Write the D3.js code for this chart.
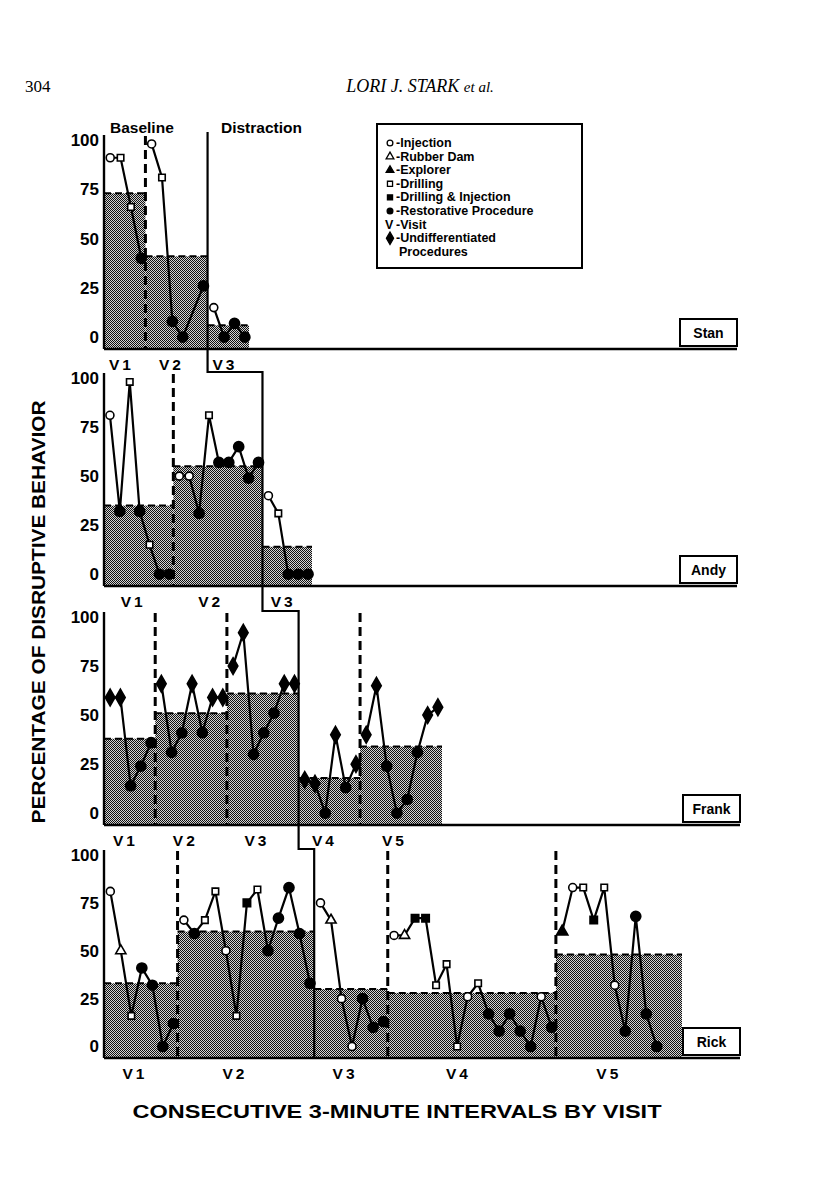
<!DOCTYPE html>
<html><head><meta charset="utf-8">
<script src="https://cdn.jsdelivr.net/npm/d3@7"></script>
<style>body{margin:0;background:#fff}</style>
</head><body>
<svg id="c" width="816" height="1195"></svg>
<script>
// ---------------- DATA ----------------
const subjects = ["Stan", "Andy", "Frank", "Rick"];
const baselineVisits = [2, 2, 3, 2];          // number of baseline visits per child
const visitLabels = ["V1", "V2", "V3", "V4", "V5"];
const yTicks = [0, 25, 50, 75, 100];
const phaseLabels = ["Baseline", "Distraction"];
const legendItems = [
  ["o", "-Injection"], ["t", "-Rubber Dam"], ["T", "-Explorer"], ["s", "-Drilling"],
  ["S", "-Drilling & Injection"], ["f", "-Restorative Procedure"], ["V", "-Visit"],
  ["d", "-Undifferentiated"], [null, "Procedures"]
];

// intervals per visit, visit mean (bar), interval values, procedure codes
// o injection, t rubber dam, T explorer, s drilling, S drilling&injection, f restorative, d undifferentiated
const stanUnits = [4, 6, 4];
const stanMeans = [73, 41, 6];
const stanValues = [[91, 91, 66, 40], [98, 81, 8, 0, null, 26], [15, 0, 7, 0]];
const stanTypes = [["o", "s", "s", "f"], ["o", "s", "f", "f", null, "f"], ["o", "f", "f", "f"]];

const andyUnits = [7, 9, 5];
const andyMeans = [35, 55, 14];
const andyValues = [[81, 32, 98, 32, 15, 0, 0], [50, 50, 31, 81, 57, 57, 65, 49, 57], [40, 31, 0, 0, 0]];
const andyTypes = [["o", "f", "s", "f", "s", "f", "f"], ["o", "o", "f", "s", "f", "f", "f", "f", "f"], ["o", "s", "f", "f", "f"]];

const frankUnits = [5, 7, 7, 6, 8];
const frankMeans = [38, 51, 61, 18, 34];
const frankValues = [[59, 59, 14, 24, 36], [66, 31, 41, 66, 41, 59, 59], [75, 92, 30, 41, 51, 66, 66],
  [17, 15, 0, 40, 13, 25], [40, 65, 24, 0, 7, 31, 50, 54]];
const frankTypes = [["d", "d", "f", "f", "f"], ["d", "f", "f", "d", "f", "d", "d"], ["d", "d", "f", "f", "f", "d", "d"],
  ["d", "d", "f", "d", "f", "d"], ["d", "d", "f", "f", "f", "f", "d", "d"]];

const rickUnits = [7, 13, 7, 16, 12];
const rickMeans = [33, 60, 30, 28, 48];
const rickValues = [[81, 50, 16, 41, 32, 0, 12],
  [66, 59, 66, 81, 50, 16, 75, 82, 50, 67, 83, 59, 33],
  [75, 66, 25, 0, 25, 10, 13],
  [58, 58, 67, 67, 32, 43, 0, 26, 33, 17, 8, 17, 8, 0, 26, 10],
  [60, 83, 83, 66, 83, 32, 8, 68, 17, 0]];
const rickTypes = [["o", "t", "s", "f", "f", "f", "f"],
  ["o", "f", "s", "s", "o", "s", "S", "s", "f", "f", "f", "f", "f"],
  ["o", "t", "o", "o", "f", "f", "f"],
  ["o", "t", "S", "S", "s", "s", "s", "o", "s", "f", "f", "f", "f", "f", "o", "f"],
  ["T", "o", "s", "S", "s", "o", "f", "f", "f", "f"]];

const panels = [
  {units: stanUnits, means: stanMeans, values: stanValues, types: stanTypes},
  {units: andyUnits, means: andyMeans, values: andyValues, types: andyTypes},
  {units: frankUnits, means: frankMeans, values: frankValues, types: frankTypes},
  {units: rickUnits, means: rickMeans, values: rickValues, types: rickTypes}
];

// ---------------- LAYOUT ----------------
const panelTop = [140, 378, 617, 855];
const panelAxis = [349, 586, 825, 1058];
const barEnd = [249, 312, 442, 682];
const axisEnd = [737, 737, 740, 740];
const x0 = 104;
const FONT = "'Liberation Sans', Arial, sans-serif";

const svg = d3.select("#c");
const defs = svg.append("defs");
const pat = defs.append("pattern").attr("id", "dots").attr("patternUnits", "userSpaceOnUse")
  .attr("width", 2).attr("height", 2);
pat.append("rect").attr("width", 2).attr("height", 2).attr("fill", "#d4d4d4");
pat.append("rect").attr("width", 1).attr("height", 1).attr("fill", "#111");
pat.append("rect").attr("x", 1).attr("y", 1).attr("width", 1).attr("height", 1).attr("fill", "#111");

// header
svg.append("text").attr("x", 25).attr("y", 92).attr("font-family", "'Liberation Serif', serif")
  .attr("font-size", 17).text("304");
const hdr = svg.append("text").attr("x", 420).attr("y", 92).attr("text-anchor", "middle")
  .attr("font-family", "'Liberation Serif', serif").attr("font-style", "italic").attr("font-size", 18);
hdr.append("tspan").text("LORI J. STARK ");
hdr.append("tspan").attr("font-size", 15).text("et al.");

// phase labels
svg.append("text").attr("x", 110).attr("y", 133).attr("font-family", FONT).attr("font-weight", "bold")
  .attr("font-size", 15.5).text(phaseLabels[0]);
svg.append("text").attr("x", 221).attr("y", 133).attr("font-family", FONT).attr("font-weight", "bold")
  .attr("font-size", 15.5).text(phaseLabels[1]);

function symbolPath(code, size) {
  const map = {o: d3.symbolCircle, f: d3.symbolCircle, s: d3.symbolSquare, S: d3.symbolSquare,
    t: d3.symbolTriangle, T: d3.symbolTriangle, d: d3.symbolDiamond};
  return d3.symbol().type(map[code]).size(size)();
}
const symSize = {o: 50, f: 80, s: 42, S: 55, t: 45, T: 55, d: 80};
const filled = c => ["f", "S", "T", "d"].includes(c);

const stepPts = [];

panels.forEach((p, pi) => {
  const total = d3.sum(p.units);
  const x = d3.scaleLinear().domain([0, total]).range([x0, barEnd[pi]]);
  const y = d3.scaleLinear().domain([-6, 100]).range([panelAxis[pi], panelTop[pi]]);
  const g = svg.append("g");
  const starts = d3.cumsum([0, ...p.units]);

  // bars (visit means)
  p.means.forEach((m, vi) => {
    g.append("rect").attr("x", x(starts[vi])).attr("y", y(m))
      .attr("width", x(starts[vi + 1]) - x(starts[vi])).attr("height", panelAxis[pi] - y(m))
      .attr("fill", "url(#dots)");
    g.append("line").attr("x1", x(starts[vi])).attr("x2", x(starts[vi + 1]))
      .attr("y1", y(m)).attr("y2", y(m)).attr("stroke", "#000").attr("stroke-width", 2)
      .attr("stroke-dasharray", "7,4");
  });

  // dashed visit boundaries
  for (let vi = 1; vi < p.units.length; vi++) {
    if (vi === baselineVisits[pi]) continue;
    g.append("line").attr("x1", x(starts[vi])).attr("x2", x(starts[vi]))
      .attr("y1", panelTop[pi] - 4).attr("y2", panelAxis[pi]).attr("stroke", "#000")
      .attr("stroke-width", 3).attr("stroke-dasharray", "9,5");
  }
  stepPts.push({x: x(starts[baselineVisits[pi]]), top: panelTop[pi], axis: panelAxis[pi]});

  // axes
  g.append("line").attr("x1", x0).attr("x2", x0).attr("y1", panelTop[pi] - 5).attr("y2", panelAxis[pi])
    .attr("stroke", "#000").attr("stroke-width", 2.4);
  g.append("line").attr("x1", x0).attr("x2", axisEnd[pi]).attr("y1", panelAxis[pi]).attr("y2", panelAxis[pi])
    .attr("stroke", "#000").attr("stroke-width", 2.4);
  const ax = g.append("g").attr("transform", `translate(${x0 - 2},0)`)
    .call(d3.axisLeft(y).tickValues(yTicks).tickSize(0).tickPadding(3));
  ax.select(".domain").remove();
  ax.selectAll("text").attr("font-family", FONT).attr("font-weight", "bold").attr("font-size", 17)
    .attr("fill", "#000");

  // visit labels
  p.units.forEach((u, vi) => {
    g.append("text").attr("x", x(starts[vi]) + (x(starts[vi + 1]) - x(starts[vi])) * 0.42)
      .attr("y", panelAxis[pi] + 21).attr("text-anchor", "middle").attr("font-family", FONT)
      .attr("font-weight", "bold").attr("font-size", 15.5).attr("letter-spacing", 3).text(visitLabels[vi]);
  });

  // lines + points
  p.values.forEach((vals, vi) => {
    const pts = vals.map((v, k) => ({v, t: p.types[vi][k], px: x(starts[vi] + k + 0.6)}))
      .filter(d => d.v !== null);
    g.append("path").datum(pts)
      .attr("d", d3.line().x(d => d.px).y(d => y(d.v)))
      .attr("fill", "none").attr("stroke", "#000").attr("stroke-width", 2.2);
    g.selectAll(null).data(pts).join("path")
      .attr("transform", d => `translate(${d.px},${y(d.v)})`)
      .attr("d", d => symbolPath(d.t, symSize[d.t]))
      .attr("fill", d => filled(d.t) ? "#000" : "#fff")
      .attr("stroke", "#000").attr("stroke-width", 1.6);
  });

  // name box
  const bw = 57, bh = 27;
  g.append("rect").attr("x", axisEnd[pi] - bw).attr("y", panelAxis[pi] - bh - 3).attr("width", bw)
    .attr("height", bh).attr("fill", "#fff").attr("stroke", "#000").attr("stroke-width", 2);
  g.append("text").attr("x", axisEnd[pi] - bw / 2).attr("y", panelAxis[pi] - 11).attr("text-anchor", "middle")
    .attr("font-family", FONT).attr("font-weight", "bold").attr("font-size", 14).text(subjects[pi]);
});

// phase-change step line
let d = `M${stepPts[0].x},${stepPts[0].top - 8}`;
stepPts.forEach((s, i) => {
  if (i < stepPts.length - 1) {
    const yy = stepPts[i + 1].top - 6;
    d += `L${s.x},${yy}L${stepPts[i + 1].x},${yy}`;
  } else {
    d += `L${s.x},${s.axis}`;
  }
});
svg.append("path").attr("d", d).attr("fill", "none").attr("stroke", "#000").attr("stroke-width", 2.2);

// legend
const lg = svg.append("g");
lg.append("rect").attr("x", 377).attr("y", 124).attr("width", 205).attr("height", 144)
  .attr("fill", "#fff").attr("stroke", "#000").attr("stroke-width", 2);
legendItems.forEach(([code, label], i) => {
  const yy = 147 + i * 13.6;
  if (code && code !== "V") {
    lg.append("path").attr("transform", `translate(390,${yy - 4})`)
      .attr("d", symbolPath(code, code === "d" ? 45 : 26))
      .attr("fill", filled(code) ? "#000" : "#fff").attr("stroke", "#000").attr("stroke-width", 1.3);
  }
  if (code === "V") {
    lg.append("text").attr("x", 385).attr("y", yy).attr("font-family", FONT).attr("font-weight", "bold")
      .attr("font-size", 12.5).text("V");
  }
  lg.append("text").attr("x", code ? 396 : 399).attr("y", yy).attr("font-family", FONT)
    .attr("font-weight", "bold").attr("font-size", 12.5).text(label);
});

// axis titles
svg.append("text").attr("transform", "translate(45,612) rotate(-90)").attr("text-anchor", "middle")
  .attr("font-family", FONT).attr("font-weight", "bold").attr("font-size", 19)
  .attr("textLength", 423).attr("lengthAdjust", "spacingAndGlyphs")
  .text("PERCENTAGE OF DISRUPTIVE BEHAVIOR");
svg.append("text").attr("x", 397).attr("y", 1118).attr("text-anchor", "middle")
  .attr("font-family", FONT).attr("font-weight", "bold").attr("font-size", 19)
  .attr("textLength", 529).attr("lengthAdjust", "spacingAndGlyphs")
  .text("CONSECUTIVE 3-MINUTE INTERVALS BY VISIT");
</script>
</body></html>
